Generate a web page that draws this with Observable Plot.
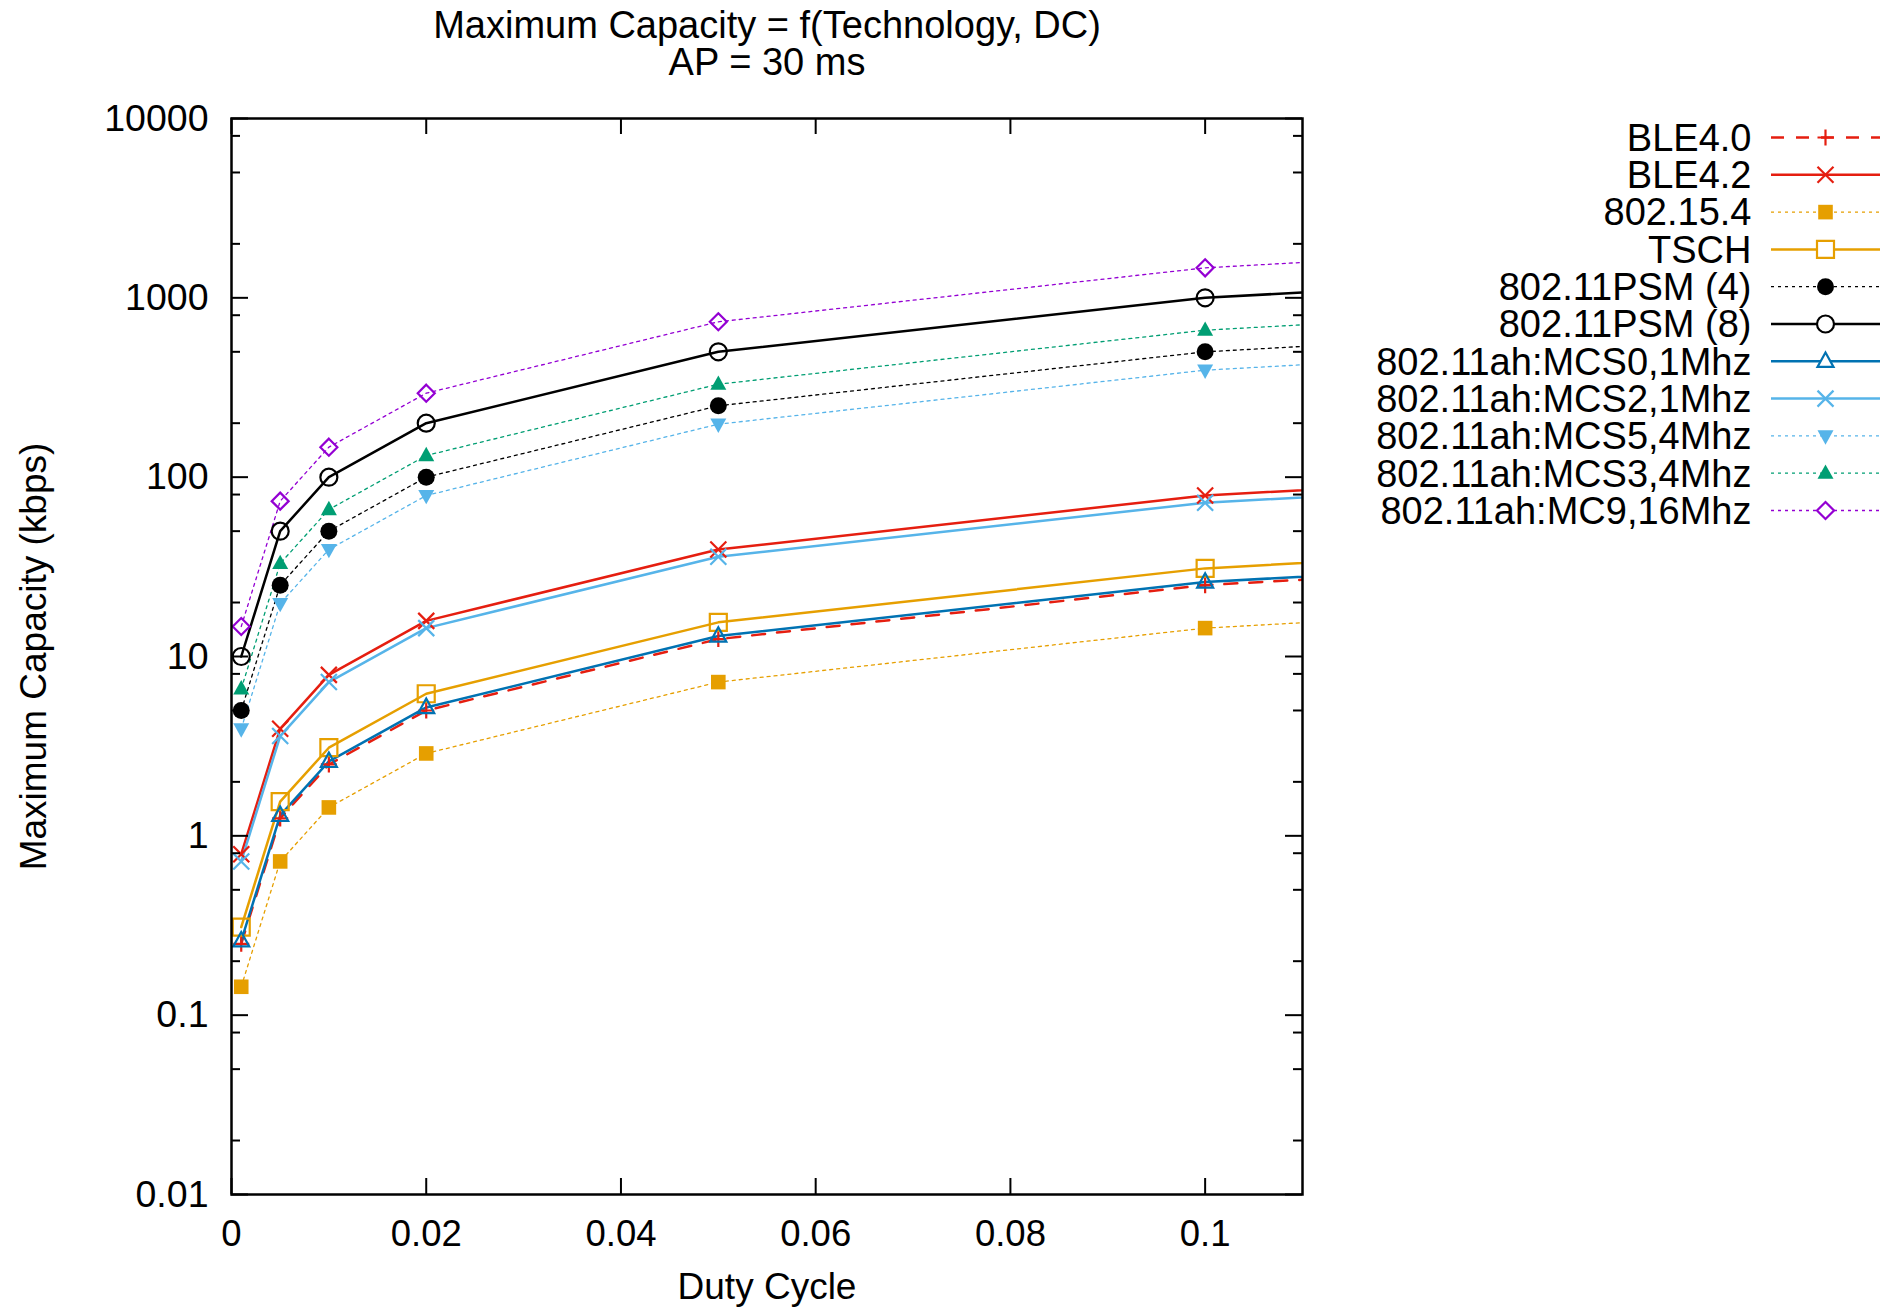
<!DOCTYPE html>
<html>
<head>
<meta charset="utf-8">
<script src="https://cdn.jsdelivr.net/npm/d3@7"></script>
<script src="https://cdn.jsdelivr.net/npm/@observablehq/plot@0.6"></script>
<style>
  body { margin: 0; background: #fff; }
  #chart svg { display: block; }
</style>
</head>
<body>
<div id="chart"></div>
<script>
// ---------------- data ----------------
const dutyCycle = [0.001, 0.005, 0.01, 0.02, 0.05, 0.1, 0.2];

const seriesNames = [
  "BLE4.0", "BLE4.2", "802.15.4", "TSCH", "802.11PSM (4)", "802.11PSM (8)",
  "802.11ah:MCS0,1Mhz", "802.11ah:MCS2,1Mhz", "802.11ah:MCS5,4Mhz",
  "802.11ah:MCS3,4Mhz", "802.11ah:MC9,16Mhz"
];

const ble40    = [0.25, 1.25, 2.5, 5.0, 12.5, 25, 50];
const ble42    = [0.79, 3.95, 7.9, 15.8, 39.5, 79, 158];
const ieee154  = [0.144, 0.72, 1.44, 2.88, 7.2, 14.4, 28.8];
const tsch     = [0.31, 1.55, 3.1, 6.2, 15.5, 31, 62];
const psm4     = [5, 25, 50, 100, 250, 500, 1000];
const psm8     = [10, 50, 100, 200, 500, 1000, 2000];
const ahMcs0   = [0.26, 1.3, 2.6, 5.2, 13, 26, 52];
const ahMcs2   = [0.72, 3.6, 7.2, 14.4, 36, 72, 144];
const ahMcs5   = [3.95, 19.75, 39.5, 79, 197.5, 395, 790];
const ahMcs3   = [6.6, 33, 66, 132, 330, 660, 1320];
const ahMc9    = [14.7, 73.5, 147, 294, 735, 1470, 2940];

const seriesValues = [ble40, ble42, ieee154, tsch, psm4, psm8, ahMcs0, ahMcs2, ahMcs5, ahMcs3, ahMc9];

const xTicks = [0, 0.02, 0.04, 0.06, 0.08, 0.1];
const yTicks = [0.01, 0.1, 1, 10, 100, 1000, 10000];
const yMinorTicks = [0.02, 0.05, 0.08, 0.2, 0.5, 0.8, 2, 5, 8, 20, 50, 80, 200, 500, 800, 2000, 5000, 8000];

const titleLine1 = "Maximum Capacity = f(Technology, DC)";
const titleLine2 = "AP = 30 ms";
const xLabel = "Duty Cycle";
const yLabel = "Maximum Capacity (kbps)";

// ---------------- styles ----------------
const FONT = "'Liberation Sans', Arial, Helvetica, sans-serif";

function shape(kind) {
  return {
    draw(ctx, size) {
      const R = Math.sqrt(size / Math.PI);
      switch (kind) {
        case "plus":
          ctx.moveTo(-R, 0); ctx.lineTo(R, 0); ctx.moveTo(0, -R); ctx.lineTo(0, R); break;
        case "times":
          ctx.moveTo(-R, -R); ctx.lineTo(R, R); ctx.moveTo(-R, R); ctx.lineTo(R, -R); break;
        case "square":
          ctx.moveTo(-R, -R); ctx.lineTo(R, -R); ctx.lineTo(R, R); ctx.lineTo(-R, R); ctx.closePath(); break;
        case "circle":
          ctx.moveTo(R, 0); ctx.arc(0, 0, R, 0, 2 * Math.PI); ctx.closePath(); break;
        case "up":
          ctx.moveTo(0, -R * 1.1); ctx.lineTo(R, R * 0.7); ctx.lineTo(-R, R * 0.7); ctx.closePath(); break;
        case "down":
          ctx.moveTo(0, R * 1.1); ctx.lineTo(R, -R * 0.7); ctx.lineTo(-R, -R * 0.7); ctx.closePath(); break;
        case "diamond":
          ctx.moveTo(0, -R); ctx.lineTo(R, 0); ctx.lineTo(0, R); ctx.lineTo(-R, 0); ctx.closePath(); break;
      }
    }
  };
}

const DOT = "3,4", DASH = "13,12";
const styles = {
  "BLE4.0":             {color: "#e51e10", width: 2.5, dash: DASH, sym: "plus",    r: 8,   filled: false},
  "BLE4.2":             {color: "#e51e10", width: 2.5, dash: null, sym: "times",   r: 8,   filled: false},
  "802.15.4":           {color: "#e69f00", width: 1.3, dash: DOT,  sym: "square",  r: 7.3, filled: true},
  "TSCH":               {color: "#e69f00", width: 2.5, dash: null, sym: "square",  r: 8.5, filled: false},
  "802.11PSM (4)":      {color: "#000000", width: 1.3, dash: DOT,  sym: "circle",  r: 8.5, filled: true},
  "802.11PSM (8)":      {color: "#000000", width: 2.5, dash: null, sym: "circle",  r: 8.5, filled: false},
  "802.11ah:MCS0,1Mhz": {color: "#0072b2", width: 2.5, dash: null, sym: "up",      r: 8,   filled: false},
  "802.11ah:MCS2,1Mhz": {color: "#56b4e9", width: 2.5, dash: null, sym: "times",   r: 8,   filled: false},
  "802.11ah:MCS5,4Mhz": {color: "#56b4e9", width: 1.3, dash: DOT,  sym: "down",    r: 8,   filled: true},
  "802.11ah:MCS3,4Mhz": {color: "#009e73", width: 1.3, dash: DOT,  sym: "up",      r: 8,   filled: true},
  "802.11ah:MC9,16Mhz": {color: "#9400d3", width: 1.3, dash: DOT,  sym: "diamond", r: 8.5, filled: false}
};

// ---------------- table ----------------
const rows = [];
seriesNames.forEach((name, i) => {
  seriesValues[i].forEach((v, j) => rows.push({series: name, dc: dutyCycle[j], cap: v}));
});

// ---------------- layout ----------------
const W = 1892, H = 1309;
const mL = 231, mR = 590, mT = 118, mB = 115;
const fw = W - mL - mR, fh = H - mT - mB;

const marks = [];
seriesNames.forEach(name => {
  const s = styles[name];
  const data = rows.filter(d => d.series === name);
  marks.push(Plot.line(data, {
    x: "dc", y: "cap", stroke: s.color, strokeWidth: s.width,
    strokeDasharray: s.dash, clip: true, strokeLinejoin: "round"
  }));
});
seriesNames.forEach(name => {
  const s = styles[name];
  const data = rows.filter(d => d.series === name);
  marks.push(Plot.dot(data, {
    x: "dc", y: "cap", r: s.r, symbol: shape(s.sym),
    fill: s.filled ? s.color : "none",
    stroke: s.filled ? "none" : s.color,
    strokeWidth: s.filled ? 0 : 2.2,
    clip: true
  }));
});

marks.push(
  Plot.ruleX(xTicks, {x: d => d, insetTop: fh - 16, stroke: "black", strokeWidth: 2}),
  Plot.ruleX(xTicks, {x: d => d, insetBottom: fh - 16, stroke: "black", strokeWidth: 2}),
  Plot.ruleY(yTicks, {y: d => d, insetRight: fw - 17, stroke: "black", strokeWidth: 2}),
  Plot.ruleY(yTicks, {y: d => d, insetLeft: fw - 17, stroke: "black", strokeWidth: 2}),
  Plot.ruleY(yMinorTicks, {y: d => d, insetRight: fw - 9, stroke: "black", strokeWidth: 2}),
  Plot.ruleY(yMinorTicks, {y: d => d, insetLeft: fw - 9, stroke: "black", strokeWidth: 2}),
  Plot.frame({stroke: "black", strokeWidth: 2.5}),
  Plot.axisX({ticks: xTicks, tickSize: 0, tickPadding: 26, tickFormat: d => String(d), label: null, fontSize: 36.5}),
  Plot.axisY({ticks: yTicks, tickSize: 0, tickPadding: 23, tickFormat: d => String(d), label: null, fontSize: 37.5}),
  Plot.text([xLabel], {text: d => d, frameAnchor: "bottom", dy: 104.5, fontSize: 37, textAnchor: "middle"}),
  Plot.text([yLabel], {text: d => d, frameAnchor: "left", dx: -197, rotate: -90, fontSize: 37, textAnchor: "middle"}),
  Plot.text([titleLine1], {text: d => d, frameAnchor: "top", dy: -107.5, fontSize: 38, textAnchor: "middle"}),
  Plot.text([titleLine2], {text: d => d, frameAnchor: "top", dy: -70, fontSize: 38, textAnchor: "middle"})
);

const chart = Plot.plot({
  width: W, height: H,
  marginLeft: mL, marginRight: mR, marginTop: mT, marginBottom: mB,
  style: {fontFamily: FONT, fontSize: "36px", color: "black", background: "white", overflow: "visible"},
  x: {domain: [0, 0.11]},
  y: {type: "log", domain: [0.01, 10000]},
  marks
});
document.getElementById("chart").appendChild(chart);

// ---------------- legend ----------------
const svg = d3.select(chart);
const lg = svg.append("g").attr("font-family", FONT).attr("font-size", 38).attr("fill", "black");
seriesNames.forEach((name, i) => {
  const s = styles[name];
  const y = 137.5 + i * 37.3;
  lg.append("text").attr("x", 1751.5).attr("y", y).attr("dy", "0.35em")
    .attr("text-anchor", "end").text(name);
  lg.append("line").attr("x1", 1771).attr("x2", 1880).attr("y1", y).attr("y2", y)
    .attr("stroke", s.color).attr("stroke-width", s.width)
    .attr("stroke-dasharray", s.dash);
  const p = d3.path();
  shape(s.sym).draw(p, s.r * s.r * Math.PI);
  lg.append("path").attr("d", p.toString()).attr("transform", `translate(1825.5,${y})`)
    .attr("fill", s.filled ? s.color : "white")
    .attr("stroke", s.filled ? "none" : s.color)
    .attr("stroke-width", s.filled ? 0 : 2.2);
});
</script>
</body>
</html>
